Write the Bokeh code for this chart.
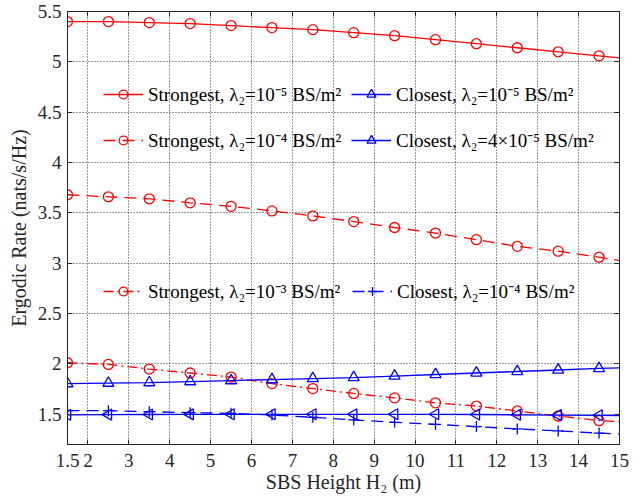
import math
from bokeh.plotting import figure
from bokeh.models import (Legend, LegendItem, FixedTicker, LinearAxis, Range1d,
                          CustomLabelingPolicy)
from bokeh.embed import file_html
from bokeh.resources import INLINE

# ---- data ----
heights = [1.5, 2.5, 3.5, 4.5, 5.5, 6.5, 7.5, 8.5, 9.5, 10.5, 11.5, 12.5, 13.5, 14.5, 15.0]
strongest_1e5 = [5.40, 5.40, 5.39, 5.38, 5.36, 5.34, 5.32, 5.29, 5.26, 5.22, 5.18, 5.14, 5.10, 5.06, 5.04]
strongest_1e4 = [3.68, 3.66, 3.64, 3.60, 3.565, 3.52, 3.47, 3.414, 3.355, 3.30, 3.234, 3.168, 3.12, 3.06, 3.027]
strongest_1e3 = [2.012, 1.995, 1.949, 1.91, 1.87, 1.805, 1.755, 1.707, 1.663, 1.614, 1.582, 1.533, 1.483, 1.437, 1.427]
closest_1e5 = [1.805, 1.81, 1.815, 1.825, 1.835, 1.845, 1.855, 1.865, 1.88, 1.895, 1.91, 1.925, 1.94, 1.955, 1.96]
closest_4e5 = [1.495, 1.497, 1.498, 1.499, 1.50, 1.50, 1.50, 1.50, 1.50, 1.50, 1.498, 1.495, 1.492, 1.49, 1.488]
closest_1e4 = [1.536, 1.536, 1.526, 1.516, 1.51, 1.493, 1.47, 1.444, 1.42, 1.40, 1.378, 1.355, 1.335, 1.313, 1.303]

x_ticks = [1.5, 2, 3, 4, 5, 6, 7, 8, 9, 10, 11, 12, 13, 14, 15]
x_tick_labels = ["1.5", "2", "3", "4", "5", "6", "7", "8", "9", "10", "11", "12", "13", "14", "15"]
y_ticks = [1.5, 2, 2.5, 3, 3.5, 4, 4.5, 5, 5.5]
y_tick_labels = ["1.5", "2", "2.5", "3", "3.5", "4", "4.5", "5", "5.5"]

labels = [
    "Strongest, λ₂=10⁻⁵ BS/m²",
    "Strongest, λ₂=10⁻⁴ BS/m²",
    "Strongest, λ₂=10⁻³ BS/m²",
    "Closest, λ₂=10⁻⁵ BS/m²",
    "Closest, λ₂=4×10⁻⁵ BS/m²",
    "Closest, λ₂=10⁻⁴ BS/m²",
]

FONT = "Liberation Serif"
TXT = "#262626"
RED = "#ff0000"
BLUE = "#0000ff"

p = figure(width=637, height=502, output_backend="svg", toolbar_location=None,
           x_range=Range1d(1.5, 15), y_range=Range1d(1.2, 5.5),
           min_border_left=67, min_border_right=9, min_border_top=8, min_border_bottom=58,
           background_fill_color="white", border_fill_color="white")

p.outline_line_color = TXT
p.outline_line_width = 1

for ax in (p.xaxis[0], p.yaxis[0]):
    ax.major_tick_in = 5
    ax.major_tick_out = 0
    ax.minor_tick_line_color = None
    ax.axis_line_color = TXT
    ax.major_tick_line_color = TXT
    ax.major_label_text_font = FONT
    ax.major_label_text_font_size = "19px"
    ax.major_label_text_color = TXT
    ax.axis_label_text_font = FONT
    ax.axis_label_text_font_size = "20px"
    ax.axis_label_text_font_style = "normal"
    ax.axis_label_text_color = TXT

p.xaxis[0].ticker = FixedTicker(ticks=x_ticks)
p.xaxis[0].major_label_overrides = dict(zip(x_ticks, x_tick_labels))
p.xaxis[0].axis_label = "SBS Height H₂ (m)"
p.xaxis[0].major_label_standoff = 9
p.xaxis[0].axis_label_standoff = 1

p.yaxis[0].ticker = FixedTicker(ticks=y_ticks)
p.yaxis[0].major_label_overrides = dict(zip(y_ticks, y_tick_labels))
p.yaxis[0].axis_label = "Ergodic Rate (nats/s/Hz)"
p.yaxis[0].major_label_standoff = 6
p.yaxis[0].axis_label_standoff = 5

# mirrored inward ticks on top and right, without labels
no_labels = CustomLabelingPolicy(code="""
try { indices.clear(); return indices } catch (e) {}
try { for (const i of Array.from(indices)) indices.unset(i); return indices } catch (e) {}
return indices
""")
top = LinearAxis(ticker=FixedTicker(ticks=x_ticks), major_tick_in=5, major_tick_out=0,
                 minor_tick_line_color=None, major_label_policy=no_labels,
                 major_label_standoff=0, axis_line_color=TXT, major_tick_line_color=TXT)
right = LinearAxis(ticker=FixedTicker(ticks=y_ticks), major_tick_in=5, major_tick_out=0,
                   minor_tick_line_color=None, major_label_policy=no_labels,
                   major_label_standoff=0, axis_line_color=TXT, major_tick_line_color=TXT)
p.add_layout(top, "above")
p.add_layout(right, "right")

for g in (p.xgrid[0], p.ygrid[0]):
    g.grid_line_color = "#000000"
    g.grid_line_alpha = 0.8
    g.grid_line_dash = "1 2"
    g.grid_line_width = 1
p.xgrid[0].ticker = FixedTicker(ticks=x_ticks)
p.ygrid[0].ticker = FixedTicker(ticks=y_ticks)

mx = heights[:14]

def series(vals, color, dash, marker, size, angle=0.0):
    ln = p.line(heights, vals, line_color=color, line_width=1.3, line_dash=dash)
    sc = p.scatter(mx, vals[:14], marker=marker, size=size, angle=angle,
                   line_color=color, fill_color=None, line_width=1.3)
    return [ln, sc]

r_s5 = series(strongest_1e5, RED, "solid", "circle", 10)
r_s4 = series(strongest_1e4, RED, "12 7", "circle", 10)
r_s3 = series(strongest_1e3, RED, "10 4 2 4", "circle", 10)
r_c5 = series(closest_1e5, BLUE, "solid", "triangle", 11)
r_c45 = series(closest_4e5, BLUE, "solid", "triangle", 11, angle=math.pi / 2)
r_c4 = series(closest_1e4, BLUE, "12 7", "cross", 11)

def mk_legend(items, loc):
    lg = Legend(items=items, location=loc, orientation="vertical",
                border_line_color=None, background_fill_alpha=0.0,
                padding=0, margin=0, spacing=20,
                glyph_width=40, glyph_height=22, label_height=22,
                label_standoff=5,
                label_text_font=FONT, label_text_font_size="19px",
                label_text_color="#000000")
    p.add_layout(lg, "center")
    return lg

mk_legend([LegendItem(label=labels[0], renderers=r_s5),
           LegendItem(label=labels[1], renderers=r_s4)], (36, 291))
mk_legend([LegendItem(label=labels[3], renderers=r_c5),
           LegendItem(label=labels[4], renderers=r_c45)], (284, 291))
mk_legend([LegendItem(label=labels[2], renderers=r_s3)], (36, 140))
mk_legend([LegendItem(label=labels[5], renderers=r_c4)], (285, 140))

open("out.html", "w").write(file_html(p, INLINE))
